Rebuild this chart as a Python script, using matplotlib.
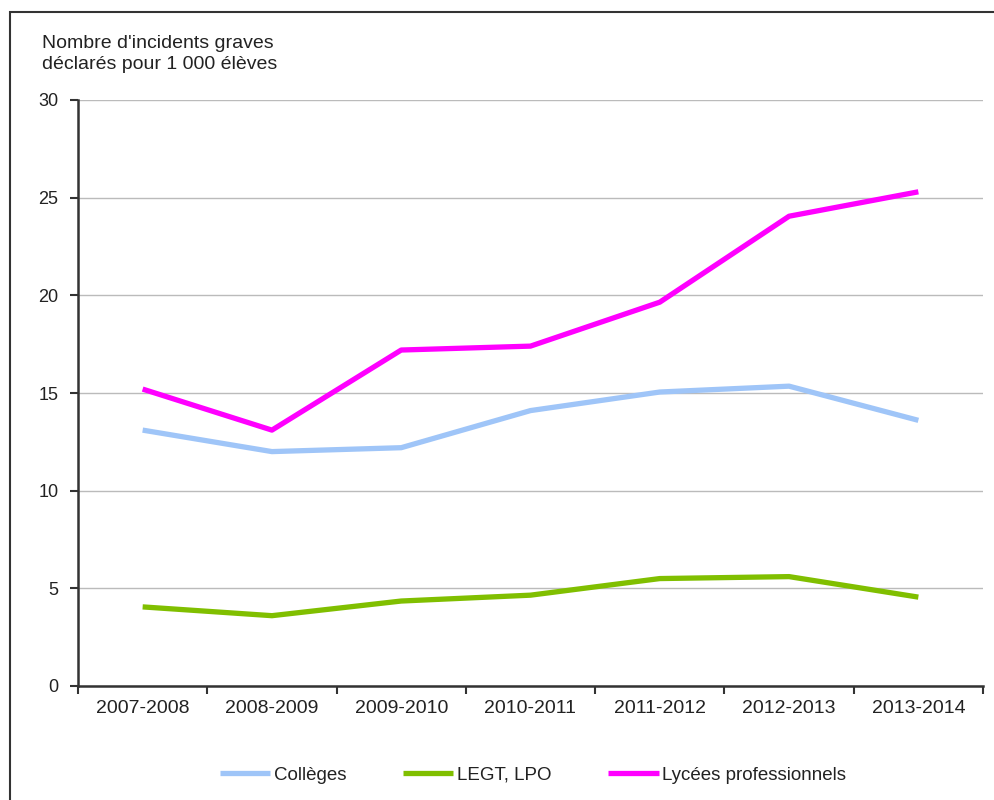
import matplotlib
matplotlib.use("Agg")
import matplotlib.pyplot as plt
from matplotlib.patches import Rectangle

plt.rcParams['font.family'] = ['Liberation Sans', 'DejaVu Sans']

categories = ["2007-2008", "2008-2009", "2009-2010", "2010-2011", "2011-2012", "2012-2013", "2013-2014"]
colleges = [13.1, 12.0, 12.2, 14.1, 15.05, 15.35, 13.6]
legt_lpo = [4.05, 3.6, 4.35, 4.65, 5.5, 5.6, 4.55]
lycees_pro = [15.2, 13.1, 17.2, 17.4, 19.65, 24.05, 25.3]
series_names = ["Collèges", "LEGT, LPO", "Lycées professionnels"]
yticks = [0, 5, 10, 15, 20, 25, 30]

fig = plt.figure(figsize=(9.95, 8), dpi=100)
fig.patches.append(Rectangle((10/995, -0.05), 1.2, 1 - 12/800 + 0.05, transform=fig.transFigure,
                             fill=False, edgecolor='#333333', linewidth=1.5))

ax = fig.add_axes([78/995, 1 - 686/800, (983 - 78)/995, (686 - 100)/800])
x = list(range(len(categories)))
colors = ['#9fc5f8', '#80bf00', '#ff00ff']
for vals, name, c in zip([colleges, legt_lpo, lycees_pro], series_names, colors):
    ax.plot(x, vals, color=c, linewidth=3.8, label=name, solid_capstyle='butt')

ax.set_xlim(-0.5, len(categories) - 0.5)
ax.set_ylim(0, 30)
ax.set_yticks(yticks)
ax.set_yticklabels([str(v) for v in yticks], fontsize=13, color='#222222')
ax.set_xticks(x)
ax.set_xticklabels(categories, fontsize=14, color='#222222')
ax.tick_params(axis='x', which='major', length=0, pad=10)
ax.set_xticks([i - 0.5 for i in range(len(categories) + 1)], minor=True)
ax.tick_params(axis='x', which='minor', length=6, width=1.5, color='#333333', direction='out')
ax.tick_params(axis='y', length=6, width=1.5, color='#333333', direction='out', pad=8)
ax.grid(axis='y', color='#bbbbbb', linewidth=1)
ax.set_axisbelow(True)
for s in ['top', 'right']:
    ax.spines[s].set_visible(False)
for s in ['left', 'bottom']:
    ax.spines[s].set_color('#333333')
    ax.spines[s].set_linewidth(1.8)

fig.text(42/995, 1 - 54/800, "Nombre d'incidents graves\ndéclarés pour 1 000 élèves",
         fontsize=14, color='#222222', va='center', ha='left', linespacing=1.25)

leg = fig.legend(loc='center', bbox_to_anchor=(533/995, 1 - 775/800), ncol=3, frameon=False,
                 fontsize=13.5, handlelength=2.7, handletextpad=0.2, columnspacing=3.0)
for t in leg.get_texts():
    t.set_color('#222222')

fig.savefig("out.png", dpi=100)
